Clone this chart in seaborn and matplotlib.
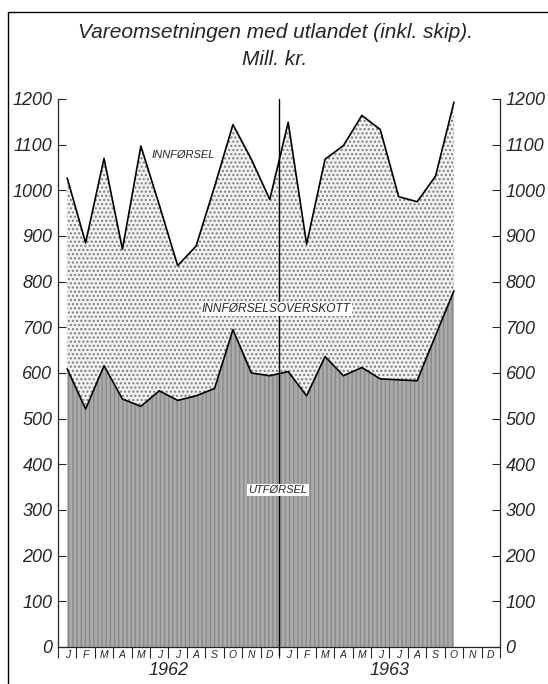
import pandas as pd
import seaborn as sns
import matplotlib.pyplot as plt
from matplotlib.lines import Line2D

# Monthly values, Jan 1962 .. Oct 1963 (mill. kr.)
months = ["J", "F", "M", "A", "M", "J", "J", "A", "S", "O", "N", "D"] * 2
years = ["1962", "1963"]
imports = [1027, 885, 1070, 871, 1097, 968, 835, 878, 1008, 1144, 1068, 980,
           1149, 882, 1068, 1098, 1164, 1133, 986, 975, 1031, 1193]
exports = [609, 521, 616, 543, 527, 561, 540, 550, 566, 695, 600, 594,
           603, 550, 636, 594, 612, 587, 585, 583, 682, 780]
yticks = list(range(0, 1300, 100))

df = pd.DataFrame({
    "idx": list(range(len(imports))) * 2,
    "value": imports + exports,
    "series": ["INNFØRSEL"] * len(imports) + ["UTFØRSEL"] * len(exports),
})

sns.set_style("ticks")
plt.rcParams["font.family"] = ["Liberation Sans", "DejaVu Sans"]
plt.rcParams["font.style"] = "italic"

fig = plt.figure(figsize=(5.48, 6.84), dpi=100)
ax = fig.add_axes([0.1058, 0.0541, 0.8066, 0.8012])

x = list(range(len(imports)))
# surplus area (imports above exports)
ax.fill_between(x, exports, imports, facecolor="#f2f2f2", edgecolor="#7a7a7a",
                hatch="....", linewidth=0)
# exports area
ax.fill_between(x, 0, exports, facecolor="#ababab", edgecolor="#8a8a8a",
                hatch="||||", linewidth=0)

sns.lineplot(data=df, x="idx", y="value", hue="series",
             palette={"INNFØRSEL": "black", "UTFØRSEL": "black"},
             linewidth=1.2, legend=False, ax=ax)

ax.set_xlim(-0.5, 23.5)
ax.set_ylim(0, 1200)
ax.set_xlabel("")
ax.set_ylabel("")

# y axis both sides, ticks pointing in
ax.set_yticks(yticks)
ax.set_yticklabels([str(v) for v in yticks], fontsize=13, style="italic")
ax.tick_params(axis="y", which="major", direction="in", length=6, width=0.8,
               left=True, right=True, labelleft=True, labelright=True, pad=4)

# month letters between separator ticks
ax.set_xticks(range(24))
ax.set_xticklabels(months, fontsize=7.5, style="italic")
ax.set_xticks([i - 0.5 for i in range(25)], minor=True)
ax.tick_params(axis="x", which="major", length=0, pad=2)
ax.tick_params(axis="x", which="minor", direction="out", length=8, width=0.8)

for side in ["left", "right", "bottom"]:
    ax.spines[side].set_linewidth(0.9)
ax.spines["top"].set_visible(False)

# year boundary
ax.axvline(11.5, ymin=-0.015, ymax=1.0, color="black", linewidth=1.0, clip_on=False)

for i, yr in enumerate(years):
    ax.text(5.5 + 12 * i, -0.027, yr, transform=ax.get_xaxis_transform(),
            ha="center", va="top", fontsize=13, style="italic")

ax.text(6.3, 1078, "INNFØRSEL", fontsize=8, style="italic", ha="center", va="center")
ax.text(11.35, 741, "INNFØRSELSOVERSKOTT", fontsize=8.6, style="italic",
        ha="center", va="center",
        bbox=dict(facecolor="white", edgecolor="none", pad=0.8))
ax.text(11.45, 343, "UTFØRSEL", fontsize=8, style="italic",
        ha="center", va="center",
        bbox=dict(facecolor="white", edgecolor="none", pad=0.8))

fig.text(0.502, 0.952, "Vareomsetningen med utlandet (inkl. skip).",
         ha="center", va="center", fontsize=15, style="italic")
fig.text(0.502, 0.913, "Mill. kr.", ha="center", va="center", fontsize=15, style="italic")

# outer frame (left and top)
fig.add_artist(Line2D([8 / 548, 8 / 548], [0, 1 - 12 / 684], color="black", linewidth=1.0))
fig.add_artist(Line2D([8 / 548, 1], [1 - 12 / 684, 1 - 12 / 684], color="black", linewidth=1.0))

fig.savefig("out.png", dpi=100)
